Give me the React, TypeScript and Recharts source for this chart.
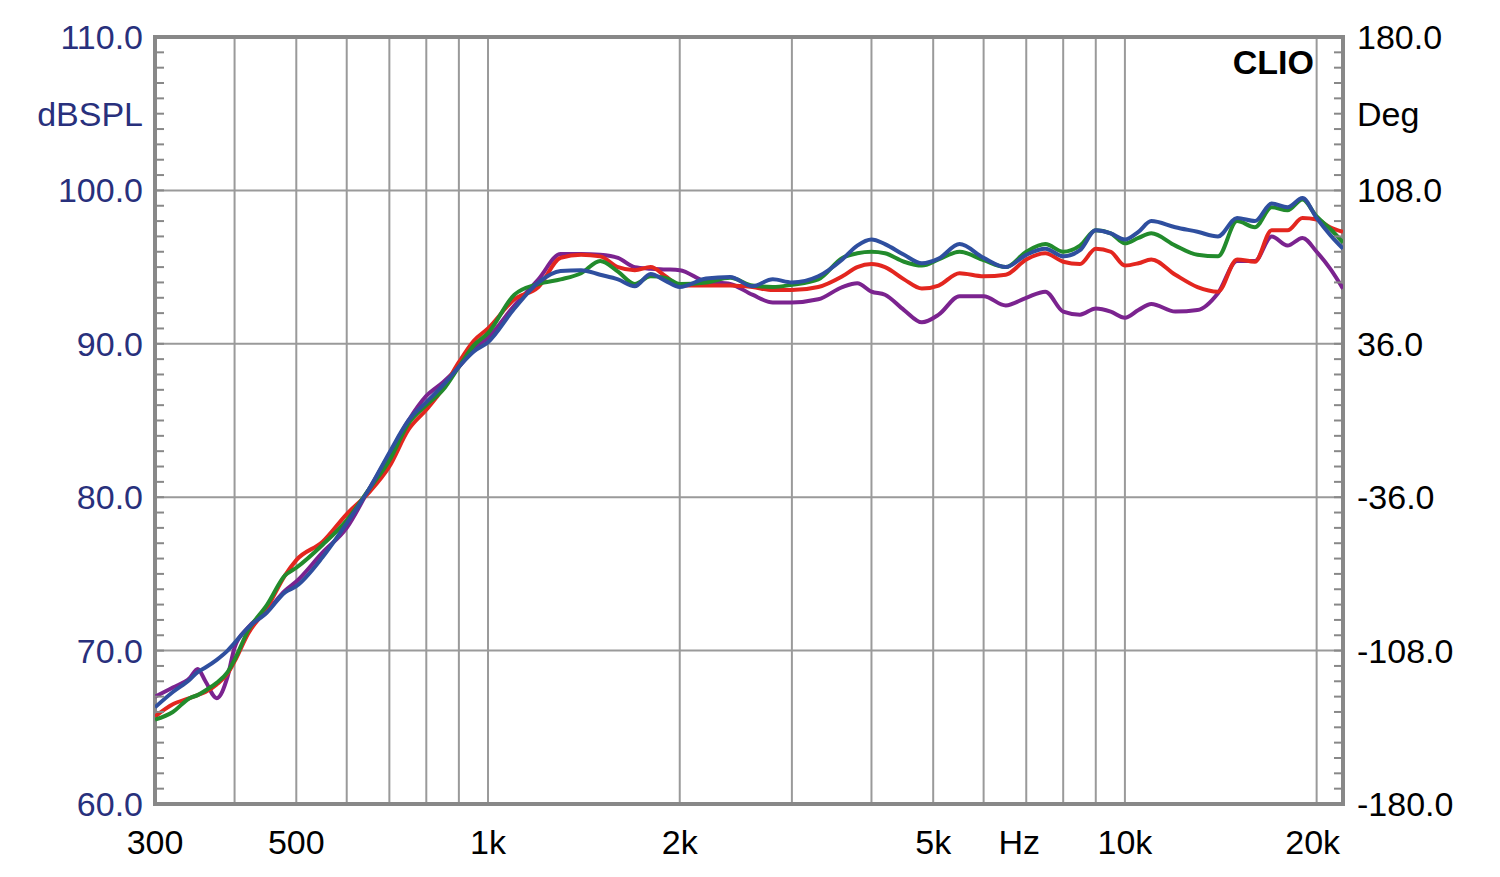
import React from "react";
import { LineChart, Line, XAxis, YAxis, CartesianGrid, ReferenceArea } from "recharts";

// frequency points (Hz) shared by all four curves
const FREQ = [
  300, 320, 340, 350, 360, 375, 390, 400, 420, 450, 480, 500, 550, 600, 650, 700, 750, 800, 850, 900, 950,
  1000, 1100, 1200, 1300, 1400, 1500, 1600, 1700, 1800, 1900, 2000, 2200, 2400, 2600, 2800,
  3000, 3300, 3600, 3800, 4000, 4200, 4500, 4800, 5100, 5500, 6000, 6500, 7000, 7500, 8000, 8500, 9000, 9500,
  10000, 10500, 11000, 12000, 13000, 14000, 15000, 16000, 17000, 18000, 19000, 20000, 21000, 22000,
];

const RED = [
  65.7, 66.5, 66.9, 67.1, 67.3, 67.8, 68.5, 69.3, 71.1, 72.8, 74.9, 75.9, 77.1, 78.9, 80.3, 82.0, 84.4, 85.7, 87.1, 88.8, 90.2,
  91.0, 92.9, 93.7, 95.6, 95.8, 95.7, 95.0, 94.8, 95.0, 94.4, 93.8, 93.8, 93.8, 93.7, 93.5,
  93.5, 93.7, 94.4, 95.0, 95.2, 95.0, 94.2, 93.6, 93.8, 94.6, 94.4, 94.5, 95.5, 95.9, 95.35, 95.2, 96.2, 96.0,
  95.1, 95.25, 95.5, 94.5, 93.7, 93.4, 95.5, 95.35, 97.4, 97.4, 98.2, 98.1, 97.6, 97.3,
];

const GREEN = [
  65.5, 66.0, 66.9, 67.1, 67.4, 67.9, 68.6, 69.4, 71.3, 73.0, 74.9, 75.4, 76.9, 78.5, 80.5, 82.4, 84.8, 86.0, 87.0, 88.5, 89.9,
  90.7, 93.2, 93.9, 94.2, 94.6, 95.4, 94.7, 93.9, 94.4, 94.3, 93.9, 94.0, 94.3, 93.8, 93.7,
  93.85, 94.2, 95.6, 95.9, 96.0, 95.9, 95.35, 95.1, 95.5, 96.0, 95.45, 95.0, 96.0, 96.5, 96.0, 96.4, 97.4, 97.2,
  96.55, 96.9, 97.2, 96.4, 95.8, 95.7, 98.0, 97.6, 98.9, 98.7, 99.4, 98.3, 97.5, 96.6,
];

const BLUE = [
  66.3, 67.3, 68.1, 68.6, 68.9, 69.4, 70.0, 70.5, 71.5, 72.5, 73.8, 74.2, 76.1, 78.3, 80.5, 82.9, 85.0, 86.2, 87.3, 88.5, 89.5,
  90.1, 92.3, 94.0, 94.75, 94.8, 94.5, 94.2, 93.75, 94.55, 94.1, 93.7, 94.25, 94.35, 93.75, 94.2,
  94.0, 94.4, 95.5, 96.4, 96.8, 96.5, 95.8, 95.25, 95.55, 96.5, 95.6, 95.0, 95.8, 96.2, 95.7, 96.1, 97.4, 97.2,
  96.8, 97.3, 98.0, 97.6, 97.3, 97.0, 98.2, 98.0, 99.15, 98.9, 99.5, 98.2, 97.1, 96.2,
];

const PURPLE = [
  67.0, 67.6, 68.2, 68.8, 68.0, 66.9, 68.3, 70.2, 71.5, 72.6, 73.9, 74.5, 76.4, 78.0, 80.5, 82.8, 85.0, 86.6, 87.5, 88.5, 89.7,
  90.4, 92.5, 94.2, 95.85, 95.85, 95.8, 95.6, 95.0, 94.9, 94.85, 94.8, 94.05, 93.9, 93.2, 92.7,
  92.7, 92.9, 93.7, 93.95, 93.4, 93.2, 92.2, 91.4, 91.9, 93.1, 93.1, 92.5, 93.0, 93.4, 92.1, 91.9, 92.3, 92.1,
  91.7, 92.2, 92.6, 92.1, 92.2, 93.3, 95.4, 95.4, 97.0, 96.4, 96.9, 96.0, 94.9, 93.6,
];

const X_TICKS = [300, 500, 1000, 2000, 5000, 7000, 10000, 20000];
const X_LABELS: Record<number, string> = {
  300: "300", 500: "500", 1000: "1k", 2000: "2k", 5000: "5k", 7000: "Hz", 10000: "10k", 20000: "20k",
};
const X_GRID = [400, 500, 600, 700, 800, 900, 1000, 2000, 3000, 4000, 5000, 6000, 7000, 8000, 9000, 10000, 20000];

const DB_GRID = [70, 80, 90, 100];
// 1 dB minor ticks on the left, labelled every 10 dB (105 carries the unit)
const DB_TICKS = Array.from({ length: 51 }, (_, i) => 60 + i);
// matching minor ticks on the phase axis: 7.2 deg steps, labelled every 72 deg (144 carries the unit)
const DEG_TICKS = Array.from({ length: 51 }, (_, i) => Math.round((-180 + i * 7.2) * 10) / 10);

const FONT = "'Liberation Sans', Arial, sans-serif";
const TICK_COLOR = "#888";

const data = FREQ.map((f, i) => ({ f, red: RED[i], green: GREEN[i], blue: BLUE[i], purple: PURPLE[i] }));

function XTick({ x, y, payload }: any) {
  const dx = payload.value === 7000 ? -7 : payload.value === 20000 ? -4 : 0;
  return (
    <text x={x + dx} y={y} dy="0.71em" textAnchor="middle" fontSize={34} fill="#000" fontFamily={FONT}>
      {X_LABELS[payload.value]}
    </text>
  );
}

function DbTick({ x, y, payload }: any) {
  const v = payload.value;
  const label = v === 105 ? "dBSPL" : v % 10 === 0 ? v.toFixed(1) : null;
  return (
    <g>
      <line x1={x + 12} x2={x + 21} y1={y} y2={y} stroke={TICK_COLOR} strokeWidth={2} />
      {label && (
        <text x={x} y={y} dy="0.355em" textAnchor="end" fontSize={34} fill="#28307c" fontFamily={FONT}>
          {label}
        </text>
      )}
    </g>
  );
}

function DegTick({ x, y, payload }: any) {
  const v = payload.value;
  const major = Math.abs((v + 180) / 72 - Math.round((v + 180) / 72)) < 1e-6;
  const label = Math.abs(v - 144) < 1e-6 ? "Deg" : major ? v.toFixed(1) : null;
  return (
    <g>
      <line x1={x - 14} x2={x - 23} y1={y} y2={y} stroke={TICK_COLOR} strokeWidth={2} />
      {label && (
        <text x={x} y={y} dy="0.355em" textAnchor="start" fontSize={34} fill="#000" fontFamily={FONT}>
          {label}
        </text>
      )}
    </g>
  );
}

export default function App() {
  return (
    <div style={{ position: "absolute", left: 0, top: 0, width: 1500, height: 877, background: "#fff" }}>
      <LineChart width={1500} height={877} data={data} margin={{ top: 37, right: 17, bottom: 13, left: 15 }}>
        <CartesianGrid
          horizontalValues={DB_GRID}
          verticalValues={X_GRID}
          stroke="#9a9a9a"
          strokeWidth={2}
          strokeDasharray=""
        />
        <XAxis
          dataKey="f"
          type="number"
          scale="log"
          domain={[300, 22000]}
          allowDataOverflow
          ticks={X_TICKS}
          interval={0}
          height={60}
          axisLine={false}
          tickLine={false}
          tickSize={8}
          tickMargin={18}
          tick={<XTick />}
        />
        <YAxis
          domain={[60, 110]}
          allowDataOverflow
          ticks={DB_TICKS}
          interval={0}
          width={140}
          axisLine={false}
          tickLine={false}
          tickSize={6}
          tickMargin={6}
          tick={<DbTick />}
        />
        <YAxis
          yAxisId="deg"
          orientation="right"
          domain={[-180, 180]}
          allowDataOverflow
          ticks={DEG_TICKS}
          interval={0}
          width={140}
          axisLine={false}
          tickLine={false}
          tickSize={6}
          tickMargin={8}
          tick={<DegTick />}
        />
        {/* invisible series so the phase axis gets rendered */}
        <Line yAxisId="deg" dataKey="blue" stroke="none" dot={false} activeDot={false} legendType="none" isAnimationActive={false} />
        <Line type="monotone" dataKey="purple" stroke="#7b238f" strokeWidth={4} dot={false} isAnimationActive={false} />
        <Line type="monotone" dataKey="red" stroke="#e3261f" strokeWidth={4} dot={false} isAnimationActive={false} />
        <Line type="monotone" dataKey="green" stroke="#228b2c" strokeWidth={4} dot={false} isAnimationActive={false} />
        <Line type="monotone" dataKey="blue" stroke="#2f4f9f" strokeWidth={4} dot={false} isAnimationActive={false} />
        <ReferenceArea x1={300} x2={22000} y1={60} y2={110} fill="none" stroke="#888" strokeWidth={4} ifOverflow="visible" />
      </LineChart>
      <div
        style={{
          position: "absolute",
          left: 1222,
          top: 41,
          width: 92,
          height: 41,
          background: "#fff",
          fontFamily: FONT,
          fontWeight: "bold",
          fontSize: 34,
          lineHeight: "42px",
          textAlign: "right",
          color: "#000",
        }}
      >
        CLIO
      </div>
    </div>
  );
}
